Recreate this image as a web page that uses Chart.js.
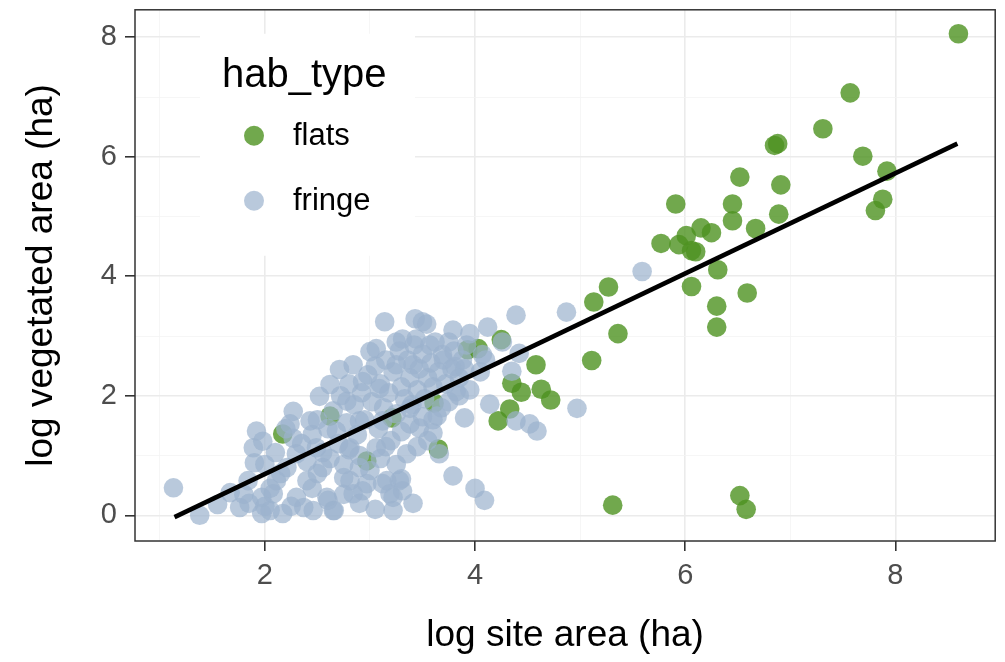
<!DOCTYPE html>
<html>
<head>
<meta charset="utf-8">
<script src="https://cdn.jsdelivr.net/npm/chart.js@4.4.1/dist/chart.umd.min.js"></script>
<style>
  html, body { margin: 0; padding: 0; background: #fff; }
  #wrap { width: 1005px; height: 662px; }
</style>
</head>
<body>
<div id="wrap"><canvas id="chart"></canvas></div>
<script>
// flats sites (green)
const flatsX = [8.60, 7.57, 7.31, 6.85, 6.88, 7.69, 7.92, 6.52, 6.91, 5.91, 6.45, 7.88, 7.81, 6.89, 6.45, 6.15, 6.25,
  6.67, 6.01, 5.77, 5.94, 6.06, 6.10, 6.31, 6.06, 6.59, 6.30, 6.30, 5.27, 5.13, 5.36, 5.11, 4.25, 4.58, 4.35, 4.44,
  4.63, 4.72, 4.33, 4.22, 5.31, 6.52, 6.58, 3.93, 4.03, 3.61, 3.65, 2.97, 2.62, 2.17, 3.21];
const flatsY = [8.06, 7.07, 6.47, 6.19, 6.22, 6.01, 5.76, 5.66, 5.53, 5.21, 5.21, 5.29, 5.10, 5.04, 4.93, 4.81, 4.73,
  4.80, 4.68, 4.55, 4.53, 4.43, 4.41, 4.11, 3.83, 3.72, 3.50, 3.15, 3.82, 3.57, 3.04, 2.59, 2.94, 2.52, 2.21, 2.06,
  2.11, 1.93, 1.78, 1.58, 0.17, 0.33, 0.10, 2.77, 2.79, 1.88, 1.11, 0.91, 1.66, 1.36, 1.63];

// fringe sites (blue-grey)
const fringeX = [1.13, 1.38, 1.55, 1.67, 1.76, 1.84, 1.92, 1.89, 1.90, 1.98, 1.97, 1.97, 2.05, 2.08, 2.11, 2.17, 2.21,
  2.27, 2.24, 2.27, 2.30, 2.37, 2.43, 2.40, 2.46, 2.49, 2.52, 2.55, 2.59, 2.65, 2.62, 2.68, 2.71, 2.75, 2.78, 2.81,
  2.84, 2.84, 2.90, 2.90, 2.93, 2.97, 3.00, 3.06, 3.09, 3.12, 3.14, 3.16, 3.19, 3.22, 3.25, 3.28, 3.31, 3.35, 3.38,
  3.41, 3.43, 3.41, 3.47, 3.50, 3.54, 3.79, 3.95, 4.12, 4.39, 4.87, 4.42, 4.35, 4.07, 3.81, 3.82, 4.14, 3.90, 3.64,
  3.60, 3.66, 3.38, 4.39, 4.52, 4.59, 4.97, 3.79, 4.00, 4.09, 3.30, 3.12, 3.22, 3.31, 2.81, 2.66, 2.93, 3.06, 3.25,
  3.44, 3.57, 3.69, 4.26, 5.59,
  2.35, 2.45, 2.50, 2.55, 2.60, 2.65, 2.70, 2.72, 2.78, 2.80, 2.85, 2.88, 2.92, 2.95, 2.98, 3.02, 3.05, 3.08, 3.10,
  3.13, 3.15, 3.18, 3.20, 3.22, 3.25, 3.28, 3.30, 3.33, 3.36, 3.38, 3.40, 3.42, 3.45, 3.47, 3.50, 3.52, 3.55, 3.58,
  3.60, 3.62, 3.65, 3.68, 3.70, 3.72, 3.75, 3.78, 3.80, 3.85, 3.88, 3.92, 2.40, 2.50, 2.62, 2.75, 2.90, 3.00, 3.10,
  3.25, 3.45, 3.55, 2.10, 2.15, 2.20, 2.00, 2.05, 2.30, 2.45, 2.60, 2.75, 2.90, 3.05, 2.25, 1.85, 1.80, 2.00, 2.80,
  3.30, 3.15, 3.60, 3.50, 3.75, 3.95, 4.05, 3.90, 4.10, 3.85];
const fringeY = [0.46, 0.00, 0.18, 0.38, 0.13, 0.58, 1.41, 1.13, 0.88, 1.24, 0.30, 0.03, 0.08, 0.36, 0.58, 0.03, 0.80,
  1.74, 1.53, 1.29, 1.03, 0.13, 1.58, 0.58, 0.08, 1.13, 1.99, 0.80, 0.30, 0.08, 2.19, 1.41, 2.44, 0.63, 1.91, 1.13,
  2.52, 0.36, 1.58, 0.80, 2.24, 0.53, 2.74, 1.13, 2.12, 1.58, 3.24, 0.58, 0.36, 0.08, 2.52, 0.58, 2.95, 1.03, 1.79,
  0.20, 3.29, 2.52, 1.46, 3.24, 3.20, 3.10, 3.04, 3.15, 3.35, 3.40, 2.71, 2.41, 2.69, 2.49, 2.07, 1.86, 1.63, 1.66,
  1.38, 1.03, 1.53, 1.58, 1.53, 1.41, 1.79, 0.66, 0.45, 0.25, 0.61, 0.53, 0.30, 0.41, 0.58, 0.08, 0.41, 2.79, 2.90,
  2.95, 2.85, 2.69, 2.90, 4.08,
  1.20, 1.35, 1.60, 1.05, 1.45, 1.75, 1.20, 2.00, 1.55, 2.20, 1.85, 1.35, 2.05, 1.60, 2.35, 1.90, 2.50, 1.45, 2.20,
  1.80, 2.60, 2.05, 1.25, 2.40, 1.70, 2.75, 2.15, 1.95, 2.60, 2.30, 1.85, 2.85, 2.10, 2.45, 2.70, 1.95, 2.30, 2.55,
  2.15, 2.90, 2.40, 1.80, 2.60, 2.20, 2.90, 2.45, 2.75, 2.30, 2.60, 2.85, 0.90, 0.70, 0.95, 0.85, 1.00, 0.75, 0.95,
  0.85, 1.15, 1.25, 1.05, 0.70, 1.45, 0.85, 0.45, 0.30, 0.45, 0.25, 0.35, 0.20, 0.10, 0.15, 0.20, 0.35, 0.15, 1.10,
  1.40, 1.15, 1.60, 1.65, 1.90, 2.10, 2.40, 2.45, 2.60, 2.00];

// fitted line ends
const fitX = [1.14, 8.59];
const fitY = [-0.03, 6.22];

const xTicks = [1, 2, 3, 4, 5, 6, 7, 8];
const yTicks = [0, 1, 2, 3, 4, 5, 6, 7, 8];
const groups = ['flats', 'fringe'];
const legendTitle = 'hab_type';

const FONT = "'Liberation Sans', Arial, sans-serif";
const flatsCol = 'rgba(77,146,33,0.8)';
const fringeCol = 'rgba(155,178,205,0.7)';

const toPts = (xs, ys) => xs.map((x, i) => ({ x: x, y: ys[i] }));

const gridCol = ctx => (ctx.tick && ctx.tick.value % 2 === 0) ? '#EBEBEB' : '#F4F4F4';
const gridW = ctx => (ctx.tick && ctx.tick.value % 2 === 0) ? 1.6 : 0.8;
const tickCol = ctx => (ctx.tick && ctx.tick.value % 2 === 0) ? '#333333' : 'rgba(0,0,0,0)';

const legendPlugin = {
  id: 'habLegend',
  beforeDatasetsDraw(chart) {
    const ctx = chart.ctx;
    const a = chart.chartArea;
    const bx = a.left + 65, by = a.top + 24;
    ctx.save();
    ctx.fillStyle = '#ffffff';
    ctx.fillRect(bx, by, 215, 222);
    ctx.fillStyle = '#000';
    ctx.font = '40px ' + FONT;
    ctx.textBaseline = 'alphabetic';
    ctx.textAlign = 'left';
    ctx.fillText(legendTitle, bx + 22, by + 53);
    const cols = [flatsCol, fringeCol];
    groups.forEach((g, i) => {
      const cy = by + 102 + i * 65;
      ctx.beginPath();
      ctx.arc(bx + 54, cy, 10, 0, Math.PI * 2);
      ctx.fillStyle = cols[i];
      ctx.fill();
      ctx.fillStyle = '#000';
      ctx.font = '31px ' + FONT;
      ctx.textBaseline = 'middle';
      ctx.fillText(g, bx + 93, cy + 1);
    });
    ctx.restore();
  },
  afterDraw(chart) {
    const ctx = chart.ctx;
    const a = chart.chartArea;
    ctx.save();
    ctx.strokeStyle = '#333333';
    ctx.lineWidth = 1.5;
    ctx.strokeRect(a.left, a.top, a.right - a.left, a.bottom - a.top);
    ctx.restore();
  }
};

new Chart(document.getElementById('chart'), {
  type: 'scatter',
  data: {
    datasets: [
      {
        type: 'line',
        label: 'fit',
        data: toPts(fitX, fitY),
        borderColor: '#000',
        borderWidth: 4.5,
        pointRadius: 0,
        fill: false,
        order: 0
      },
      {
        label: groups[1],
        data: toPts(fringeX, fringeY),
        backgroundColor: fringeCol,
        borderWidth: 0,
        pointRadius: 9.8,
        order: 1
      },
      {
        label: groups[0],
        data: toPts(flatsX, flatsY),
        backgroundColor: flatsCol,
        borderWidth: 0,
        pointRadius: 9.8,
        order: 2
      }
    ]
  },
  options: {
    responsive: true,
    maintainAspectRatio: false,
    animation: false,
    layout: { padding: { top: 5, right: 9, left: 0, bottom: 0 } },
    plugins: { legend: { display: false }, tooltip: { enabled: false } },
    scales: {
      x: {
        type: 'linear',
        min: 0.764,
        max: 8.95,
        afterBuildTicks: s => { s.ticks = xTicks.map(v => ({ value: v })); },
        afterFit: s => { s.height = 121; s.paddingLeft = 0; s.paddingRight = 0; },
        grid: { color: gridCol, lineWidth: gridW, tickColor: tickCol, tickLength: 10, drawTicks: true },
        border: { display: false },
        ticks: {
          color: '#4D4D4D',
          font: { family: FONT, size: 29 },
          padding: 8,
          maxRotation: 0,
          autoSkip: false,
          callback: v => (v % 2 === 0 ? String(v) : '')
        },
        title: {
          display: true,
          text: 'log site area (ha)',
          color: '#000',
          font: { family: FONT, size: 37 },
          padding: { bottom: 4, top: 0 }
        }
      },
      y: {
        type: 'linear',
        min: -0.43,
        max: 8.46,
        afterBuildTicks: s => { s.ticks = yTicks.map(v => ({ value: v })); },
        afterFit: s => { s.width = 135; s.paddingTop = 0; s.paddingBottom = 0; },
        grid: { color: gridCol, lineWidth: gridW, tickColor: tickCol, tickLength: 10, drawTicks: true },
        border: { display: false },
        ticks: {
          color: '#4D4D4D',
          font: { family: FONT, size: 29 },
          padding: 8,
          autoSkip: false,
          callback: v => (v % 2 === 0 ? String(v) : '')
        },
        title: {
          display: true,
          text: 'log vegetated area (ha)',
          color: '#000',
          font: { family: FONT, size: 37 },
          padding: { top: 20, bottom: 0 }
        }
      }
    }
  },
  plugins: [legendPlugin]
});
</script>
</body>
</html>
